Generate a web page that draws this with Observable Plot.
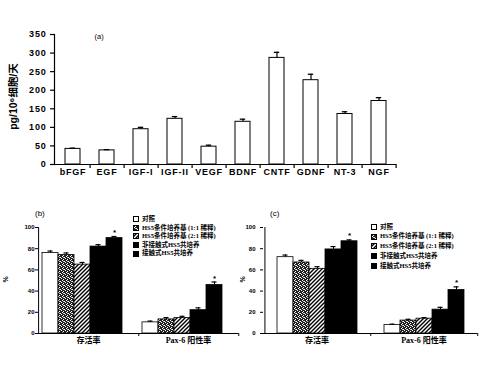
<!DOCTYPE html>
<html><head><meta charset="utf-8">
<script src="https://cdn.jsdelivr.net/npm/d3@7"></script>
<script src="https://cdn.jsdelivr.net/npm/@observablehq/plot@0.6"></script>
<style>
body{margin:0;background:#fff;}
#wrap{position:relative;width:480px;height:375px;overflow:hidden;background:#fff;}
.pl{position:absolute;}
.tag{position:absolute;font-family:"Liberation Sans",Arial,sans-serif;font-size:8px;color:#000;line-height:1;}
.pct{position:absolute;font-family:"Liberation Sans",Arial,sans-serif;font-size:7px;font-weight:bold;color:#000;line-height:1;transform:rotate(-90deg);transform-origin:center;}
.leg{position:absolute;font-family:"Liberation Serif","Noto Sans CJK SC",serif;font-weight:bold;font-size:6.5px;color:#000;line-height:1;}
.leg .row{position:absolute;left:0;white-space:nowrap;display:flex;align-items:center;}
.leg svg{margin-right:3px;}
</style></head><body><div id="wrap"></div>
<script>
// ---------- data ----------
const factors = ["bFGF","EGF","IGF-I","IGF-II","VEGF","BDNF","CNTF","GDNF","NT-3","NGF"];
const secretion = [42,38,95,123,48,115,287,227,136,171];
const secretionErr = [2,2,5,6,4,7,15,16,6,9];
const yLabelA = "pg/10⁶细胞/天";

const groups = ["存活率","Pax-6 阳性率"];
const seriesNames = ["对照","HS5条件培养基 (1:1 稀释)","HS5条件培养基 (2:1 稀释)","非接触式HS5共培养","接触式HS5共培养"];
const starred = [false,false,false,false,true];

const bSurvival = [76,74,65,82,90];
const bSurvivalErr = [1.8,2,2,1.8,1.5];
const bPax = [10.5,13.3,14.6,22,45.7];
const bPaxErr = [1.2,1.7,1.6,2.2,2.9];

const cSurvival = [72,67,61,79.3,87];
const cSurvivalErr = [2,2,2,2.7,1.3];
const cPax = [8,12.2,14,22.5,41];
const cPaxErr = [0.8,1.2,1,2.2,3];

const seriesFills = ["#fff","url(#pDots)","url(#pDiag)","#000","#000"];

// ---------- layout ----------
const wrap = document.getElementById("wrap");
wrap.insertAdjacentHTML("beforeend", `<svg width="0" height="0" style="position:absolute"><defs>
<pattern id="pDots" patternUnits="userSpaceOnUse" width="4" height="4">
<rect width="4" height="4" fill="#222"/>
<rect x="0" y="0" width="1" height="1" fill="#fff"/><rect x="2" y="1" width="1" height="1" fill="#fff"/>
<rect x="1" y="2" width="1" height="1" fill="#fff"/><rect x="3" y="3" width="1" height="1" fill="#fff"/>
<rect x="2" y="3" width="1" height="1" fill="#bbb"/>
</pattern>
<pattern id="pDiag" patternUnits="userSpaceOnUse" width="4" height="4">
<rect width="4" height="4" fill="#fff"/>
<path d="M-1,1L1,-1M0,4L4,0M3,5L5,3" stroke="#000" stroke-width="1.4"/>
</pattern></defs></svg>`);

function place(node, left, top) {
  node.classList.add("pl");
  node.style.left = left + "px";
  node.style.top = top + "px";
  wrap.appendChild(node);
}

// ---------- panel (a) ----------
const aData = factors.map((f, i) => ({factor: f, value: secretion[i], err: secretionErr[i]}));
const pa = Plot.plot({
  width: 480, height: 185,
  marginLeft: 54, marginRight: 84, marginTop: 34, marginBottom: 21,
  style: {fontFamily: "'Liberation Sans', Arial, sans-serif", background: "transparent", color: "#000"},
  x: {domain: factors, paddingInner: 0.57, paddingOuter: 0.285},
  y: {domain: [0, 350]},
  marks: [
    Plot.barY(aData, {x: "factor", y: "value", fill: "#fff", stroke: "#000", strokeWidth: 1}),
    Plot.ruleX(aData, {x: "factor", y1: "value", y2: d => d.value + d.err, stroke: "#000", strokeWidth: 1.2}),
    Plot.tickY(aData, {x: "factor", y: d => d.value + d.err, insetLeft: 4.8, insetRight: 4.8, stroke: "#000", strokeWidth: 1.3}),
    Plot.ruleY([0], {stroke: "#000", strokeWidth: 1.2}),
    Plot.frame({anchor: "left", stroke: "#000", strokeWidth: 1.2}),
    Plot.axisY({ticks: d3.range(0, 351, 50), tickSize: 4, tickPadding: 4, fontSize: 9, fontWeight: "bold", label: null, strokeWidth: 1.2}),
    Plot.axisX({tickSize: 0, tickPadding: 4, fontSize: 9, fontWeight: "bold", label: null}),
    Plot.axisX({tickSize: 4, tickFormat: () => "", dx: 17.1, label: null, strokeWidth: 1.2}),
    Plot.text([yLabelA], {frameAnchor: "left", textAnchor: "middle", rotate: -90, dx: -41, dy: -3, fontSize: 10.5, fontWeight: "bold",
                          fontFamily: "'Liberation Sans','Noto Sans CJK SC',sans-serif"}),
    Plot.text(["(a)"], {frameAnchor: "top-left", dx: 40, dy: -1, fontSize: 7.5})
  ]
});
pa.querySelectorAll('[aria-label^="x-axis"] text, [aria-label^="y-axis"] text').forEach(t => t.setAttribute("letter-spacing", "0.8"));
place(pa, 0, 0);

// ---------- panels (b) and (c) ----------
function groupPlot(surv, survErr, pax, paxErr, cfg) {
  const rows = [];
  groups.forEach((g, gi) => seriesNames.forEach((s, si) => {
    rows.push({
      group: g, series: s,
      value: gi === 0 ? surv[si] : pax[si],
      err: gi === 0 ? survErr[si] : paxErr[si],
      star: starred[si], pat: seriesFills[si]
    });
  }));
  const facetW = (240 - cfg.marginLeft - cfg.marginRight) / 2;
  const step = facetW / (seriesNames.length + 2 * cfg.po);
  const firstCenter = (facetW - step * seriesNames.length) * cfg.align + step / 2;
  return Plot.plot({
    width: 240, height: 185,
    marginLeft: cfg.marginLeft, marginRight: cfg.marginRight, marginTop: 37, marginBottom: 42,
    style: {fontFamily: "'Liberation Sans', Arial, sans-serif", background: "transparent", color: "#000"},
    fx: {domain: groups, padding: 0, label: null},
    x: {domain: seriesNames, paddingInner: 0, paddingOuter: cfg.po, align: cfg.align, axis: null},
    y: {domain: [0, 100]},
    color: {type: "identity"},
    marks: [
      Plot.barY(rows, {fx: "group", x: "series", y: "value", fill: "pat", stroke: "#000", strokeWidth: 0.8}),
      Plot.ruleX(rows, {fx: "group", x: "series", y1: "value", y2: d => d.value + d.err, stroke: "#000", strokeWidth: 1}),
      Plot.tickY(rows, {fx: "group", x: "series", y: d => d.value + d.err, insetLeft: 5.5, insetRight: 5.5, stroke: "#000", strokeWidth: 1.2}),
      Plot.text(rows.filter(d => d.star), {fx: "group", x: "series", y: d => d.value + d.err, text: () => "*", dy: -4, lineAnchor: "middle", fontSize: 8, fontWeight: "bold"}),
      Plot.ruleY([0], {stroke: "#000", strokeWidth: 1}),
      // y-axis line, drawn in the first facet only
      Plot.ruleX(rows.slice(0, 1), {fx: "group", x: "series", y1: 0, y2: 100, dx: -firstCenter, stroke: "#000", strokeWidth: 1}),
      Plot.axisY({ticks: d3.range(0, 101, 20), tickSize: 3, tickPadding: cfg.tp, fontSize: 6, fontWeight: "bold", label: null, strokeWidth: 1}),
      Plot.axisFx({anchor: "bottom", tickSize: 0, tickPadding: 4, fontSize: 8, fontWeight: "bold", label: null,
                   fontFamily: "'Liberation Serif','Noto Sans CJK SC',serif"}),
      Plot.axisFx({anchor: "bottom", tickSize: 3, tickFormat: () => "", dx: facetW / 2, label: null})
    ]
  });
}

const pb = groupPlot(bSurvival, bSurvivalErr, bPax, bPaxErr, {marginLeft: 37, marginRight: 2, po: 0.565, align: 0.2, tp: 1});
place(pb, 0, 190);
const pc = groupPlot(cSurvival, cSurvivalErr, cPax, cPaxErr, {marginLeft: 22, marginRight: 3, po: 0.74, align: 0.5, tp: 5});
place(pc, 240, 190);

// ---------- tags and legends ----------
function tag(cls, text, left, top) {
  const d = document.createElement("div");
  d.className = cls; d.textContent = text;
  d.style.left = left + "px"; d.style.top = top + "px";
  wrap.appendChild(d);
}
tag("tag", "(b)", 35, 210);
tag("tag", "(c)", 270, 210);
tag("pct", "%", 2, 276);
tag("pct", "%", 239, 276);

function legend(left, top, gap) {
  const box = document.createElement("div");
  box.className = "leg";
  box.style.left = left + "px"; box.style.top = top + "px";
  seriesNames.forEach((s, i) => {
    const r = document.createElement("div");
    r.className = "row";
    r.style.top = (i * gap) + "px";
    r.innerHTML = `<svg width="6" height="6"><rect x="0.5" y="0.5" width="5" height="5" fill="${seriesFills[i]}" stroke="#000" stroke-width="1"/></svg><span>${s}</span>`;
    box.appendChild(r);
  });
  wrap.appendChild(box);
}
legend(133, 216, 8.6);
legend(371, 223.5, 9.8);
</script></body></html>
